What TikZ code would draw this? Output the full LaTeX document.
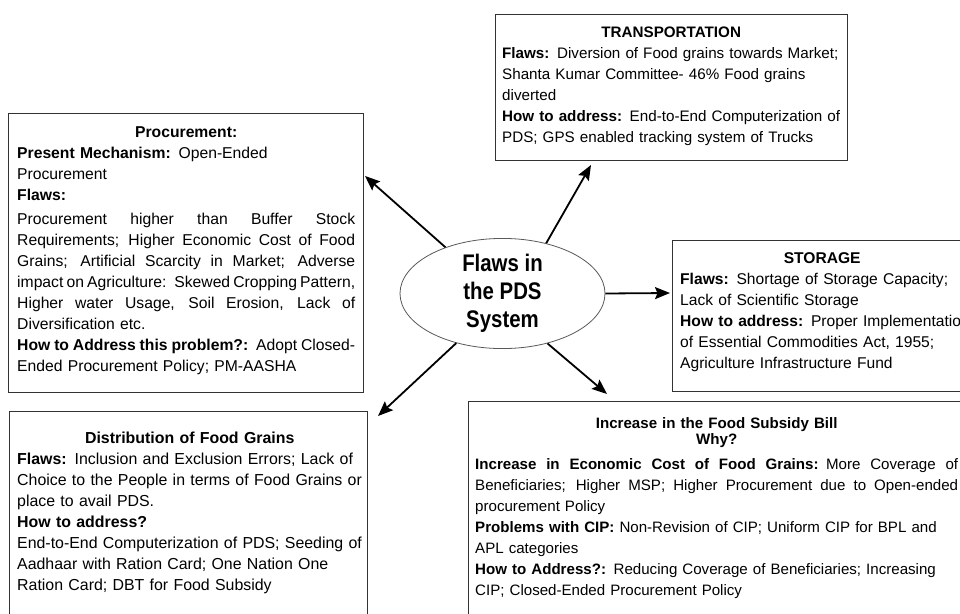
\documentclass[tikz,border=0pt]{standalone}
\usepackage{fontspec}
\setmainfont{Liberation Sans}
\newfontfamily\hubfont[FakeStretch=0.85]{Liberation Sans}
\usetikzlibrary{arrows.meta,shapes.geometric}
\hbadness=10000
\hfuzz=30pt

% a fully justified line: spaces stretch (or shrink) to fill the text width
\newcommand\jline[1]{\leavevmode\hbox to \hsize{\spaceskip=.278em plus 1fil minus .12em\relax #1}}

\begin{document}
\begin{tikzpicture}[x=1pt,y=-1pt,
  panel/.style={draw=black!80,line width=1.3pt,anchor=north west,inner sep=0pt},
  body/.style={anchor=base west,inner sep=0pt,align=left,text=black},
  link/.style={draw=black,line width=1.8pt,-{Stealth[length=15pt,width=12pt,inset=2.5pt]}},
]
\useasboundingbox (0,0) rectangle (960,613);
\fill[white] (0,0) rectangle (960,613);
\clip (0,0) rectangle (960,613);

% frames of the five boxes
\node[panel,minimum width=355pt,minimum height=279pt] (procbox) at (8,113) {};
\node[panel,minimum width=352pt,minimum height=146pt] (transbox) at (495,14) {};
\node[panel,minimum width=310pt,minimum height=151pt] (storebox) at (672,240) {};
\node[panel,minimum width=358pt,minimum height=230pt] (distbox) at (9,411) {};
\node[panel,minimum width=520pt,minimum height=230pt] (billbox) at (468,401) {};

% procurement
\node[body,text width=338pt,font=\fontsize{15.7}{21}\selectfont] (proctext) at (17,137) {%
\makebox[\hsize]{\bfseries Procurement:}\\
\textbf{Present Mechanism:} Open-Ended\\
Procurement\\
\textbf{Flaws:}\\[3pt]
\jline{Procurement higher than Buffer Stock}\\
\jline{Requirements; Higher Economic Cost of Food}\\
\jline{Grains; Artificial Scarcity in Market; Adverse}\\
\jline{impact on Agriculture: Skewed Cropping Pattern,}\\
\jline{Higher water Usage, Soil Erosion, Lack of}\\
Diversification etc.\\
\jline{\textbf{How to Address this problem?:} Adopt Closed-}\\
Ended Procurement Policy; PM-AASHA};

% transportation
\node[body,text width=345pt,font=\fontsize{15.2}{21}\selectfont] (transtext) at (502,37) {%
\makebox[338pt]{\bfseries TRANSPORTATION}\\
\textbf{Flaws:} Diversion of Food grains towards Market;\\
Shanta Kumar Committee- 46\% Food grains\\
diverted\\
\textbf{How to address:} End-to-End Computerization of\\
PDS; GPS enabled tracking system of Trucks};

% storage
\node[body,text width=310pt,font=\fontsize{15.6}{21}\selectfont] (storetext) at (680,263) {%
\makebox[284pt]{\bfseries STORAGE}\\
\textbf{Flaws:} Shortage of Storage Capacity;\\
Lack of Scientific Storage\\
\textbf{How to address:} Proper Implementation\\
of Essential Commodities Act, 1955;\\
Agriculture Infrastructure Fund};

% distribution
\node[body,text width=345pt,font=\fontsize{15.9}{21}\selectfont] (disttext) at (17,443) {%
\makebox[\hsize]{\bfseries Distribution of Food Grains}\\
\textbf{Flaws:} Inclusion and Exclusion Errors; Lack of\\
Choice to the People in terms of Food Grains or\\
place to avail PDS.\\
\textbf{How to address?}\\
End-to-End Computerization of PDS; Seeding of\\
Aadhaar with Ration Card; One Nation One\\
Ration Card; DBT for Food Subsidy};

% food subsidy bill
\node[body,text width=483pt,font=\fontsize{15.1}{21}\selectfont] (billtext) at (475,428.5) {%
\makebox[\hsize]{\bfseries Increase in the Food Subsidy Bill}\\[-5pt]
\makebox[\hsize]{\bfseries Why?}\\[4pt]
\jline{\textbf{Increase in Economic Cost of Food Grains:} More Coverage of}\\
\jline{Beneficiaries; Higher MSP; Higher Procurement due to Open-ended}\\
procurement Policy\\
\textbf{Problems with CIP:} Non-Revision of CIP; Uniform CIP for BPL and\\
APL categories\\
\textbf{How to Address?:} Reducing Coverage of Beneficiaries; Increasing\\
CIP; Closed-Ended Procurement Policy};

% central ellipse
\node[draw=black!65,line width=0.8pt,ellipse,minimum width=205pt,minimum height=107pt,
      inner sep=0pt,align=center,text depth=4.5pt,
      font=\hubfont\bfseries\fontsize{24}{28}\selectfont] (pds) at (502.5,293.5) {Flaws in\\the PDS\\System};

% arrow tips
\coordinate (toProc) at (365,176);
\coordinate (toTrans) at (591,165);
\coordinate (toStore) at (670,293);
\coordinate (toDist) at (378,416);
\coordinate (toBill) at (607,394);

\draw[link] (pds.141) -- (toProc);
\draw[link] (pds.49) -- (toTrans);
\draw[link] (pds.0) -- (toStore);
\draw[link] (pds.227) -- (toDist);
\draw[link] (pds.312) -- (toBill);
\end{tikzpicture}
\end{document}
